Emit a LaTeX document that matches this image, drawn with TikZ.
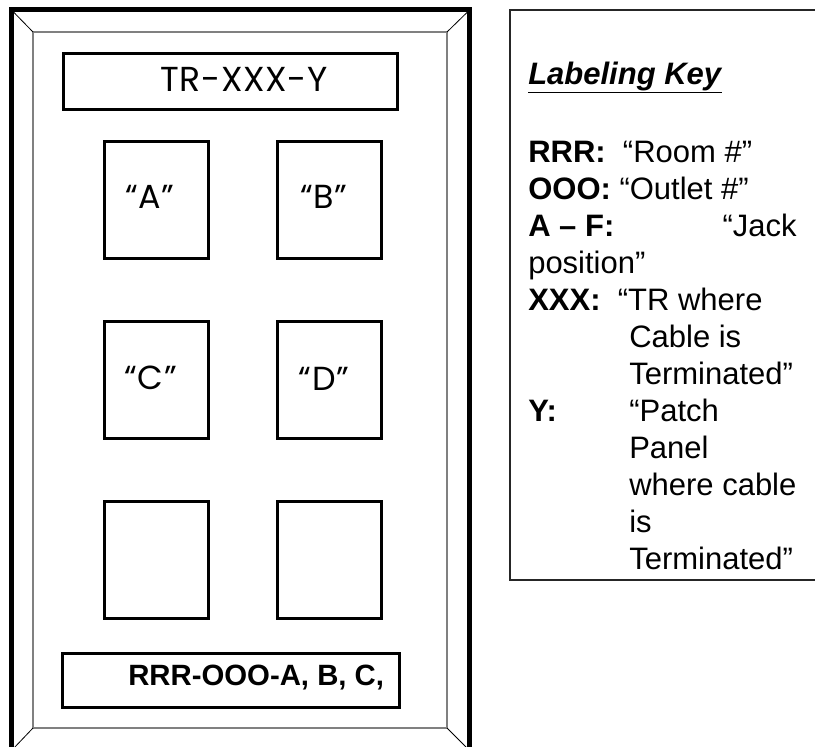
\documentclass[tikz,border=0pt]{standalone}
\usepackage{fontspec}
\setmainfont{Liberation Sans}
\newfontfamily\gothic[LetterSpace=2]{Poppins}
\usetikzlibrary{positioning}
\tikzset{
  jack_box/.style={rectangle,draw=black,line width=2.6pt,minimum width=78pt,
    minimum height=87.75pt,inner sep=0pt},
  lbl_box/.style={rectangle,draw=black,line width=2.6pt,inner sep=0pt},
  jack_txt/.style={font=\gothic\fontsize{25}{29}\selectfont,inner sep=0pt,anchor=base},
  key_txt/.style={font=\fontsize{23.25}{28}\selectfont,inner sep=0pt,anchor=base west},
}

\begin{document}
\begin{tikzpicture}[x=0.75pt,y=-0.75pt]
  \useasboundingbox (0,0) rectangle (815,747);
  \clip (0,0) rectangle (815,747);
  % bevelled face plate
  \draw[line width=3.4pt] (11.5,9.5) rectangle (469.5,753);
  \draw[black!50,line width=0.9pt] (33,32) rectangle (447,728);
  \draw[line width=0.6pt] (13,11.5) -- (33,32) (468,11.5) -- (447,32)
    (447,728) -- (468,749) (33,728) -- (13,749);
  % top and bottom strips
  \node[lbl_box,minimum width=250.5pt,minimum height=42pt] (ttl) at (230.5,81.5) {};
  \node[font=\gothic\fontsize{26}{30}\selectfont,inner sep=0pt,anchor=base] (ttl_t) at (244,91) {TR-XXX-Y};
  \node[lbl_box,minimum width=252.75pt,minimum height=40.5pt] (id) at (231,680.5) {};
  \node[key_txt,font=\bfseries\fontsize{22}{25.5}\selectfont] (id_t) at (128,685) {RRR-OOO-A, B, C,};
  % jack positions
  \node[jack_box] (ja) at (156.5,200) {};
  \node[jack_box,right=49.1pt of ja] (jb) {};
  \node[jack_box,below=44.6pt of ja] (jc) {};
  \node[jack_box,right=49.1pt of jc] (jd) {};
  \node[jack_box,below=44.6pt of jc] (je) {};
  \node[jack_box,right=49.1pt of je] (jf) {};
  \node[jack_txt] (la) at ([xshift=-5pt,yshift=-6.5pt]ja.center) {“A”};
  \node[jack_txt] (lb) at ([xshift=-4pt,yshift=-6.5pt]jb.center) {“B”};
  \node[jack_txt] (lc) at ([xshift=-4.5pt,yshift=-7.5pt]jc.center) {“C”};
  \node[jack_txt] (ld) at ([xshift=-4pt,yshift=-8pt]jd.center) {“D”};
  % labeling key
  \draw[black!85,line width=1.1pt] (510,10) rectangle (840,580);
  \node[key_txt] (k_ttl) at (528,84) {\underline{\textbf{\textit{Labeling Key}}}};
  \node[key_txt] (k_rrr) at (528,162) {\textbf{RRR:}\ \ “Room \#”};
  \node[key_txt] (k_ooo) at (528,199) {\textbf{OOO:} “Outlet \#”};
  \node[key_txt] (k_af) at (528,236) {\textbf{A – F:}};
  \node[key_txt,anchor=base east] (k_jack) at (797,236) {“Jack};
  \node[key_txt] (k_pos) at (528,273) {position”};
  \node[key_txt] (k_xxx) at (528,310) {\textbf{XXX:}\ \ “TR where};
  \node[key_txt] (k_y) at (528,421) {\textbf{Y:}};
  \node[key_txt] (k_pp) at (629,421) {“Patch};
  \foreach \txt [count=\i] in {Cable is,Terminated”,,Panel,where cable,is,Terminated”}
    \node[key_txt] (k_l\i) at (629,310+37*\i) {\txt};
\end{tikzpicture}
\end{document}
